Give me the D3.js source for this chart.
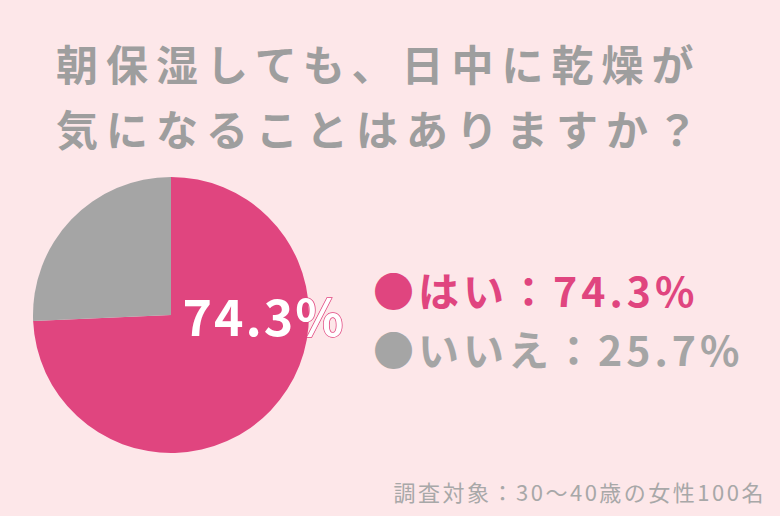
<!DOCTYPE html>
<html><head><meta charset="utf-8">
<script src="https://cdn.jsdelivr.net/npm/d3@7"></script>
<style>body{margin:0;background:#fde7e9;}svg{display:block}</style>
</head><body>
<svg id="c" width="780" height="516"></svg>
<script>
const titleLines = ["朝保湿しても、日中に乾燥が","気になることはありますか？"];
const categories = ["はい","いいえ"];
const values = [74.3, 25.7];
const colors = ["#e0457f","#a5a5a5"];
const footnote = "調査対象：30〜40歳の女性100名";

const svg = d3.select("#c");
const font = "'Noto Sans CJK JP', 'Noto Sans', sans-serif";
svg.append("rect").attr("width",780).attr("height",516).attr("fill","#fde7e9");

svg.selectAll("text.title").data(titleLines).join("text")
  .attr("x",56).attr("y",(d,i)=>81+i*65)
  .attr("font-family",font).attr("font-weight",700).attr("font-size",42)
  .attr("letter-spacing",8)
  .attr("fill","#9e9e9e").text(d=>d);

const pie = d3.pie().sort(null).value(d=>d)(values);
const arc = d3.arc().innerRadius(0).outerRadius(138);
const g = svg.append("g").attr("transform","translate(171,315)");
g.selectAll("path").data(pie).join("path").attr("d",arc).attr("fill",(d,i)=>colors[i]);

svg.append("text").attr("x",264).attr("y",336).attr("text-anchor","middle")
  .attr("font-family",font).attr("font-weight",700).attr("font-size",50)
  .attr("letter-spacing",2)
  .attr("fill","#fff").attr("stroke",colors[0]).attr("stroke-width",1.5)
  .attr("paint-order","stroke").text(values[0]+"%");

const leg = svg.selectAll("g.leg").data(categories).join("g")
  .attr("transform",(d,i)=>`translate(373,${293+i*59})`);
leg.append("text").attr("x",0).attr("y",14)
  .attr("font-family",font).attr("font-weight",700).attr("font-size",41)
  .attr("letter-spacing",4)
  .attr("fill",(d,i)=>colors[i])
  .text((d,i)=>"●"+d+"："+values[i]+"%");

svg.append("text").attr("x",766).attr("y",501).attr("text-anchor","end")
  .attr("font-family",font).attr("font-size",22).attr("letter-spacing",2.5)
  .attr("fill","#a8a8a8").text(footnote);
</script>
</body></html>
